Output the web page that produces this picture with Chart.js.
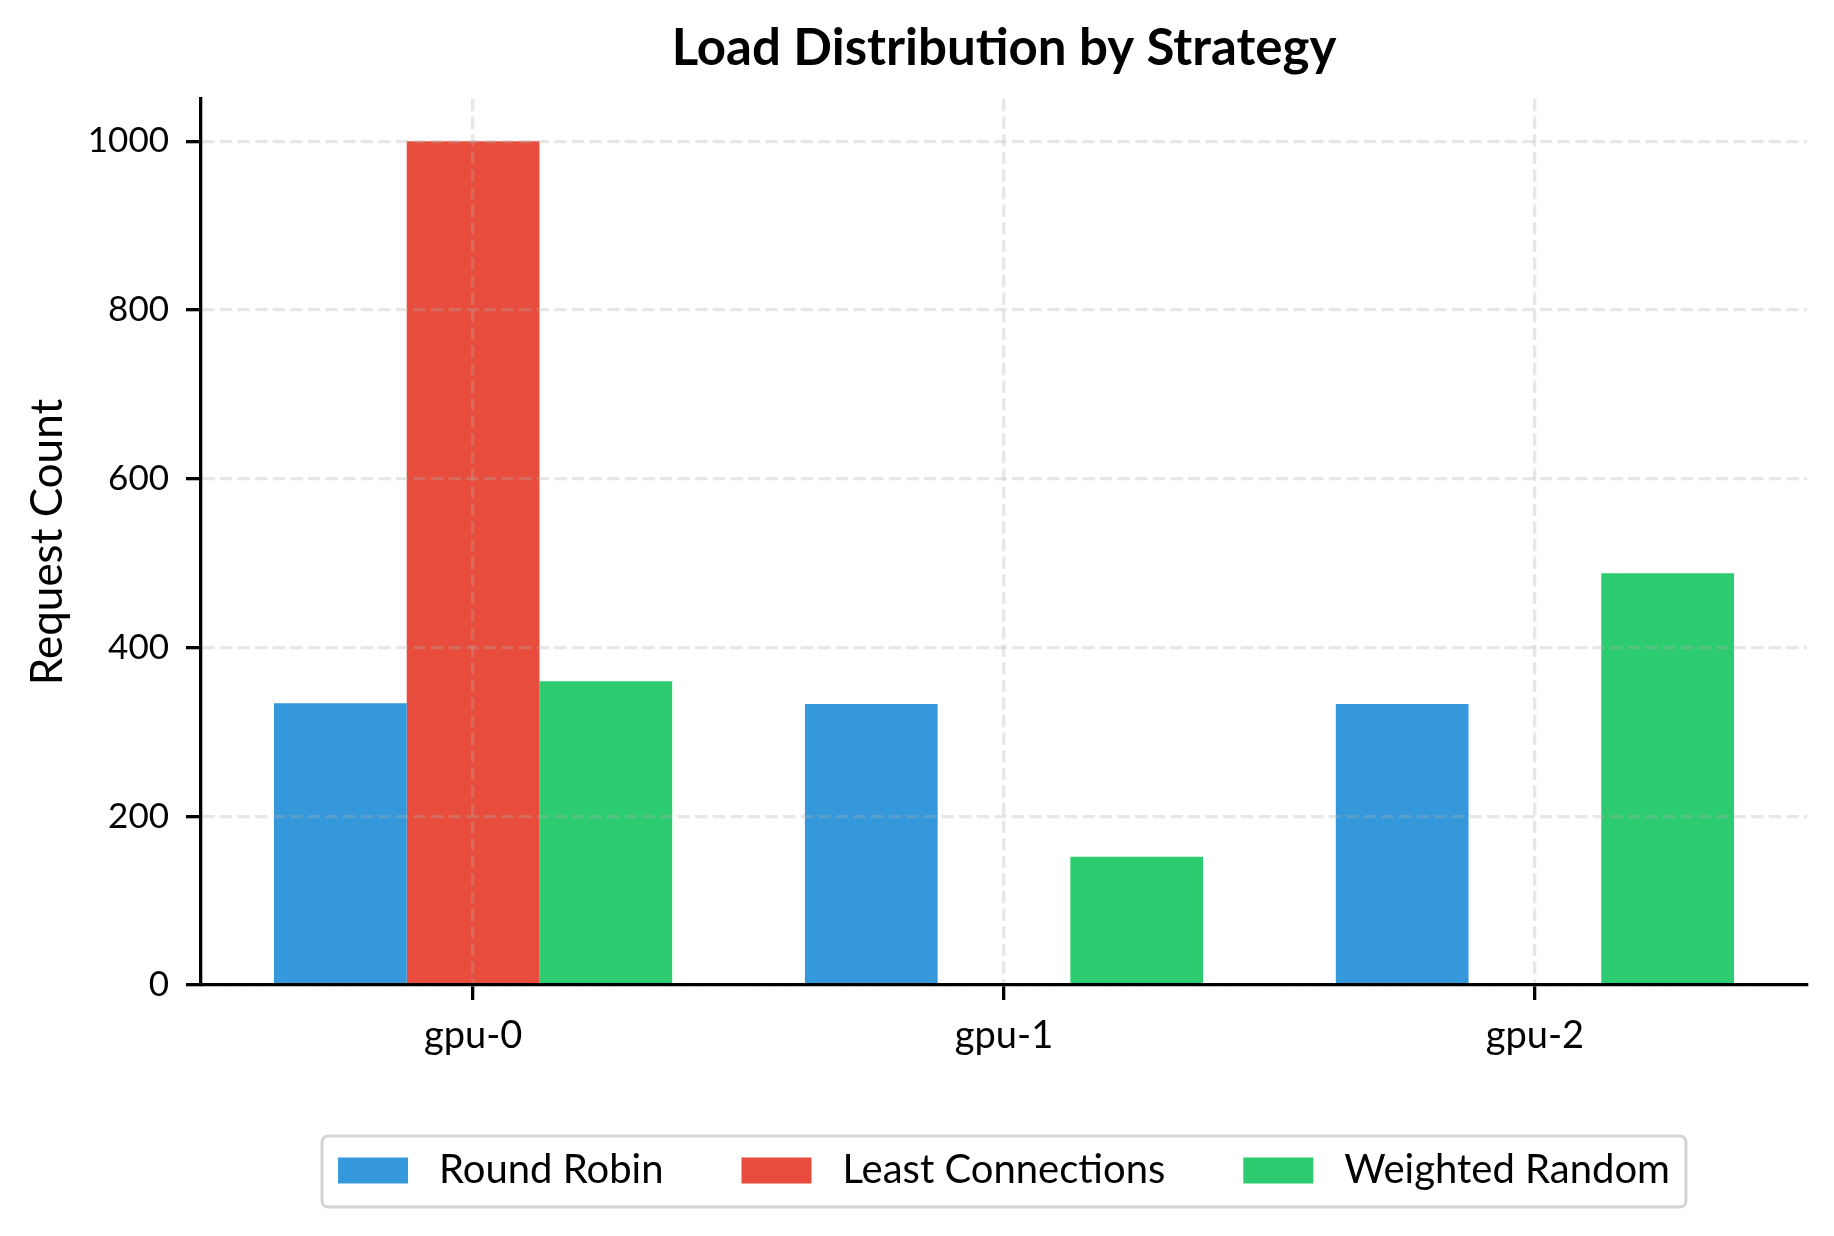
<!DOCTYPE html>
<html>
<head>
<meta charset="utf-8">
<title>Load Distribution by Strategy</title>
<script src="https://cdn.jsdelivr.net/npm/chart.js@4.4.1/dist/chart.umd.min.js"></script>
<style>
  html, body { margin: 0; padding: 0; background: #fff; }
  canvas { display: block; }
</style>
</head>
<body>
<canvas id="chart" width="1834" height="1236" style="width:1834px;height:1236px"></canvas>
<script>
const gpus             = ["gpu-0", "gpu-1", "gpu-2"];
const strategies       = ["Round Robin", "Least Connections", "Weighted Random"];
const roundRobin       = [334, 333, 333];
const leastConnections = [1000, 0, 0];
const weightedRandom   = [360, 152, 488];
const yTicks           = [0, 200, 400, 600, 800, 1000];
const xTicks           = [0, 1, 2];
const chartTitle       = "Load Distribution by Strategy";

const colors    = ["#3498db", "#e74c3c", "#2ecc71"];
const FONT      = "Lato";
const gridColor = "rgba(176,176,176,0.3)";
const LINE      = 3.3;

// matplotlib-like x range: bars of width 0.25 plus 5% margins
const X_MIN = -0.5125;
const X_MAX = 2.5125;

const series = [roundRobin, leastConnections, weightedRandom];

// title centred over the plot area (not the whole canvas), like matplotlib
const axesTitle = {
  id: "axesTitle",
  afterDraw(chart) {
    const { ctx, chartArea } = chart;
    ctx.save();
    ctx.font = `bold 51px ${FONT}`;
    ctx.fillStyle = "#000";
    ctx.textAlign = "center";
    ctx.textBaseline = "middle";
    ctx.fillText(chartTitle, (chartArea.left + chartArea.right) / 2, 49);
    ctx.restore();
  }
};

// legend drawn by hand so the frame and spacing look like the original
const boxLegend = {
  id: "boxLegend",
  afterDraw(chart) {
    const { ctx, chartArea } = chart;
    const patchW = 70, patchH = 26, textGap = 31, itemGap = 78, padX = 16;
    const top = chart.height - 100, h = 71;
    const midY = top + h / 2 - 1;

    ctx.save();
    ctx.font = `40px ${FONT}`;
    const widths = strategies.map(s => ctx.measureText(s).width);
    const contentW = widths.reduce((a, b) => a + b, 0)
      + strategies.length * (patchW + textGap) + (strategies.length - 1) * itemGap;
    let x = (chartArea.left + chartArea.right) / 2 - contentW / 2;

    ctx.beginPath();
    ctx.roundRect(x - padX, top, contentW + 2 * padX, h, 6);
    ctx.fillStyle = "#fff";
    ctx.fill();
    ctx.lineWidth = 3;
    ctx.strokeStyle = "#d4d4d4";
    ctx.stroke();

    ctx.textBaseline = "middle";
    ctx.textAlign = "left";
    strategies.forEach((s, i) => {
      ctx.fillStyle = colors[i];
      ctx.fillRect(x, midY - patchH / 2, patchW, patchH);
      ctx.fillStyle = "#000";
      ctx.fillText(s, x + patchW + textGap, midY);
      x += patchW + textGap + widths[i] + itemGap;
    });
    ctx.restore();
  }
};

new Chart(document.getElementById("chart"), {
  type: "bar",
  data: {
    datasets: strategies.map((name, i) => ({
      label: name,
      data: series[i].map((v, j) => ({ x: xTicks[j], y: v })),
      backgroundColor: colors[i],
      borderWidth: 0,
      categoryPercentage: 0.75,
      barPercentage: 1.0
    }))
  },
  options: {
    responsive: false,
    devicePixelRatio: 1,
    animation: false,
    layout: { padding: { left: 0, right: 27, top: 99, bottom: 150 } },
    plugins: {
      legend: { display: false },
      tooltip: { enabled: false },
      title: { display: false }
    },
    scales: {
      x: {
        type: "linear",
        min: X_MIN,
        max: X_MAX,
        offset: false,
        afterBuildTicks: axis => { axis.ticks = xTicks.map(v => ({ value: v })); },
        afterFit: axis => { axis.height = 101; },
        ticks: {
          color: "#000",
          font: { family: FONT, size: 38 },
          padding: 13,
          callback: v => gpus[v]
        },
        grid: {
          offset: false,
          color: gridColor,
          lineWidth: LINE,
          tickColor: "#000",
          tickWidth: LINE,
          tickLength: 15,
          z: 1
        },
        border: { color: "#000", width: LINE, dash: [12.3, 5.3], z: 2 }
      },
      y: {
        min: 0,
        max: 1050,
        afterBuildTicks: axis => { axis.ticks = yTicks.map(v => ({ value: v })); },
        afterFit: axis => { axis.width = 201; },
        ticks: {
          color: "#000",
          font: { family: FONT, size: 35 },
          padding: 17,
          callback: v => String(v)
        },
        grid: {
          color: gridColor,
          lineWidth: LINE,
          tickColor: "#000",
          tickWidth: LINE,
          tickLength: 15,
          z: 1
        },
        border: { color: "#000", width: LINE, dash: [12.3, 5.3], z: 2 },
        title: {
          display: true,
          text: "Request Count",
          color: "#000",
          font: { family: FONT, size: 44, lineHeight: 1.2 },
          padding: { top: 21, bottom: 0 }
        }
      }
    }
  },
  plugins: [axesTitle, boxLegend]
});
</script>
</body>
</html>
